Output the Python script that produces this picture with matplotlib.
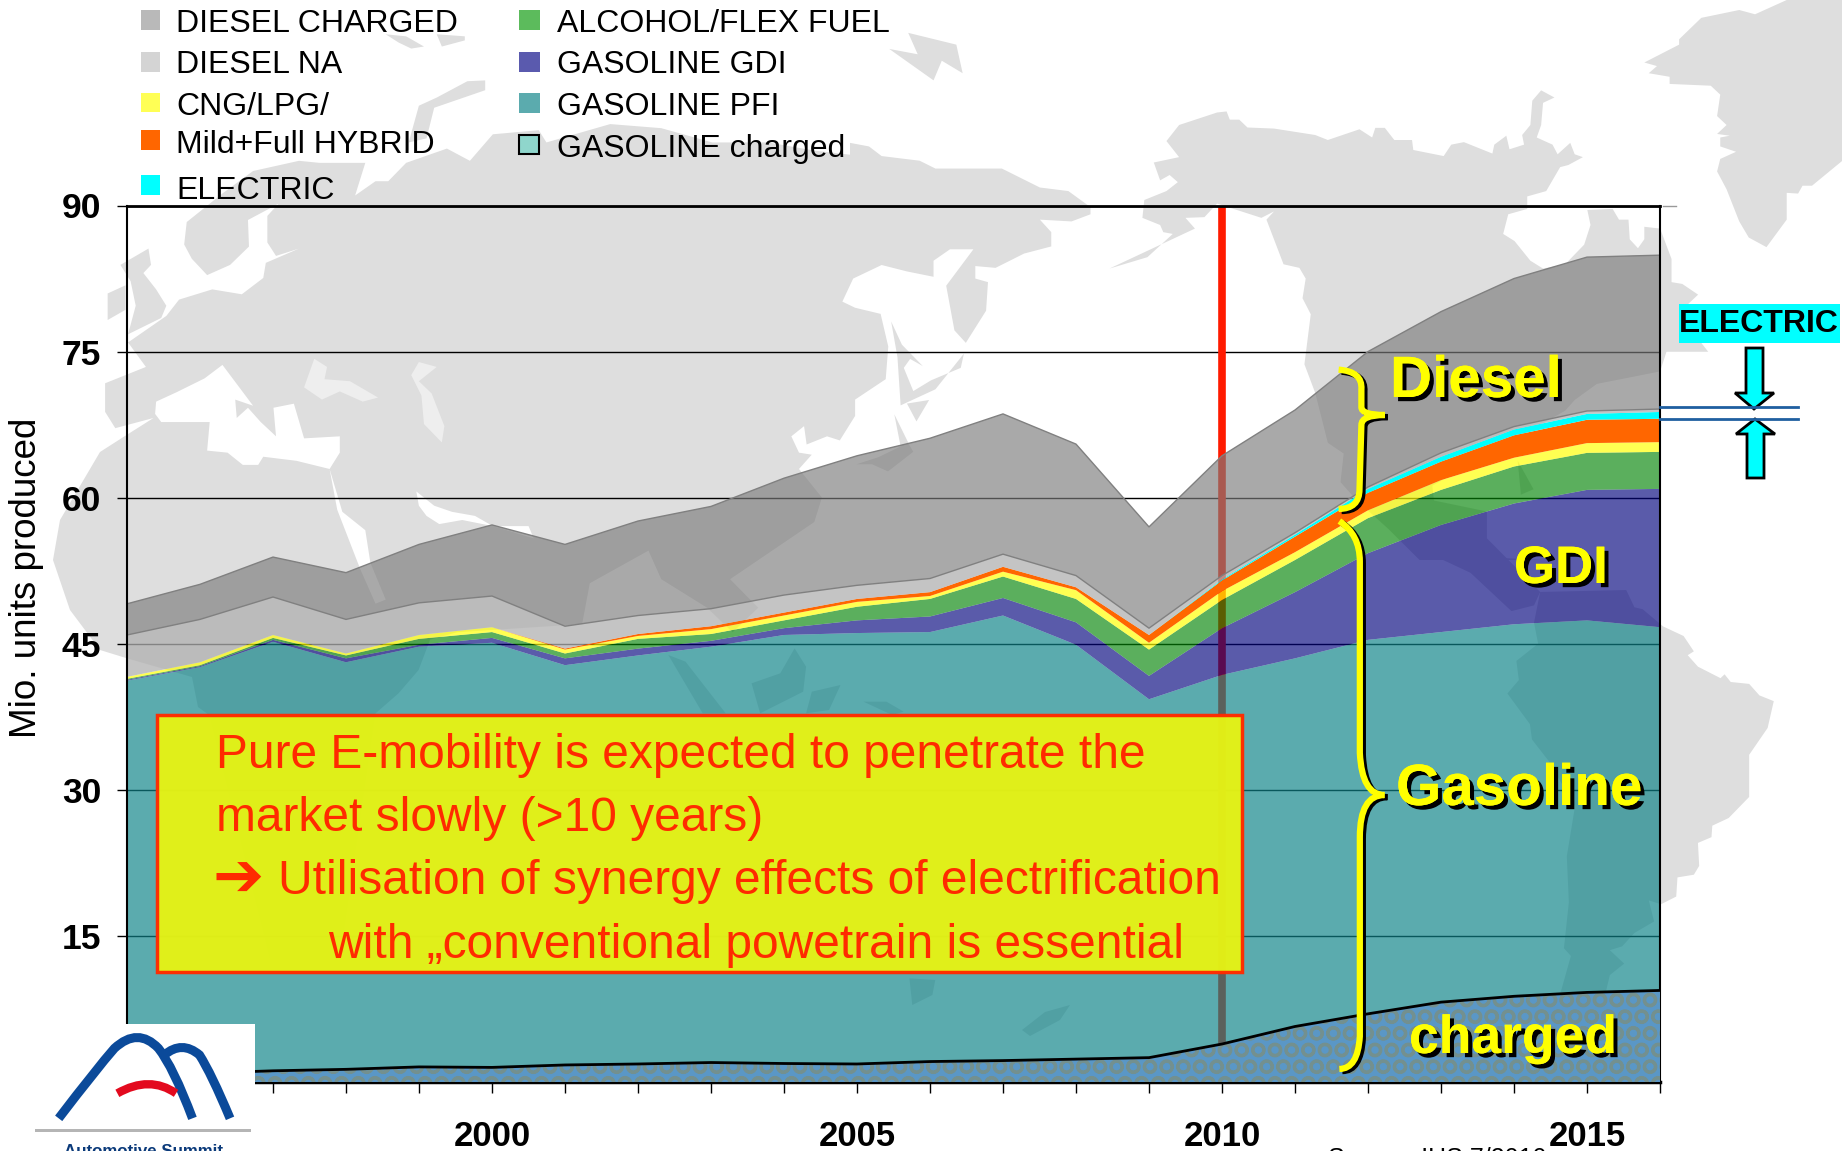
import matplotlib
matplotlib.use('Agg')
import numpy as np
import matplotlib.pyplot as plt
import matplotlib.patheffects as pe
from matplotlib.patches import Polygon, Rectangle, PathPatch
from matplotlib.path import Path

plt.rcParams['font.family'] = ['Liberation Sans', 'DejaVu Sans']
plt.rcParams['hatch.linewidth'] = 2.2

# Yearly top of every stacked layer, mio. units
years = list(range(1995, 2017))
gasoline_charged = [0.7, 0.9, 1.15, 1.3, 1.55, 1.5, 1.75, 1.85, 2.0, 1.9, 1.85, 2.1, 2.2, 2.35, 2.5, 3.9, 5.7, 7.0, 8.2, 8.8, 9.2, 9.4]
gasoline_pfi = [41.2, 42.6, 45.2, 43.1, 44.7, 45.1, 42.8, 43.8, 44.7, 45.9, 46.1, 46.2, 47.9, 44.9, 39.3, 41.8, 43.5, 45.4, 46.2, 47.0, 47.4, 46.7]
gasoline_gdi = [41.3, 42.7, 45.4, 43.5, 44.9, 45.6, 43.5, 44.5, 45.3, 46.6, 47.4, 47.8, 49.7, 47.2, 41.7, 46.6, 50.3, 54.3, 57.2, 59.4, 60.8, 60.9]
alcohol = [41.4, 42.8, 45.6, 43.8, 45.5, 46.2, 44.0, 45.5, 46.0, 47.4, 48.8, 49.6, 51.9, 49.6, 44.4, 49.5, 53.6, 57.9, 60.8, 63.2, 64.6, 64.7]
cng_lpg = [41.6, 43.1, 45.9, 44.0, 45.9, 46.7, 44.4, 45.8, 46.5, 47.9, 49.3, 49.9, 52.4, 50.5, 45.1, 50.4, 54.4, 58.7, 61.8, 64.1, 65.6, 65.7]
hybrid = [41.6, 43.1, 45.9, 44.0, 45.9, 46.7, 44.5, 46.0, 46.8, 48.2, 49.6, 50.3, 52.9, 50.8, 45.9, 51.5, 56.0, 60.5, 63.7, 66.4, 68.0, 68.1]
electric = [41.6, 43.1, 45.9, 44.0, 45.9, 46.7, 44.5, 46.0, 46.8, 48.2, 49.6, 50.3, 52.9, 50.8, 45.9, 51.6, 56.2, 60.9, 64.2, 67.0, 68.6, 68.8]
diesel_na = [45.9, 47.5, 49.8, 47.5, 49.2, 49.9, 46.8, 47.9, 48.6, 50.0, 51.0, 51.7, 54.2, 52.0, 46.6, 52.0, 56.4, 61.1, 64.6, 67.3, 68.9, 69.1]
diesel_charged = [49.1, 51.1, 53.9, 52.3, 55.2, 57.2, 55.2, 57.6, 59.1, 62.0, 64.3, 66.1, 68.6, 65.5, 57.0, 64.3, 69.0, 75.0, 79.1, 82.5, 84.7, 84.9]
y_ticks = [15, 30, 45, 60, 75, 90]
x_labels = [2000, 2005, 2010, 2015]

legend_col1 = ['DIESEL CHARGED', 'DIESEL NA', 'CNG/LPG/', 'Mild+Full HYBRID', 'ELECTRIC']
legend_col2 = ['ALCOHOL/FLEX FUEL', 'GASOLINE GDI', 'GASOLINE PFI', 'GASOLINE charged']
note_lines = ['Pure E-mobility is expected to penetrate the', 'market slowly (>10 years)',
              'Utilisation of synergy effects of electrification', 'with \u201econventional powetrain is essential']

W, H = 1842, 1151
fig = plt.figure(figsize=(W / 100, H / 100), dpi=100, facecolor='white')

# background map, in pixels of the figure
bg = fig.add_axes([0, 0, 1, 1], zorder=0)
bg.set_xlim(0, W)
bg.set_ylim(H, 0)
bg.axis('off')

# crop coordinates -> figure pixels
def a(pts):
    return [(100 + x / 1.96, 20 + y / 2.45) for x, y in pts]
def b(pts):
    return [(850 + x / 1.58, y / 2.8) for x, y in pts]
def c(pts):
    return [(1200 + x / 2.44, 500 + y / 2.61) for x, y in pts]
def d(pts):
    return [(100 + x / 1.742, 620 + y / 3) for x, y in pts]

MAP = '#dedede'
eurasia_africa = (
    a([(55, 790), (130, 725), (155, 685), (220, 660), (278, 672), (320, 632), (325, 595), (390, 560), (345, 578),
       (328, 545), (328, 480), (350, 450), (290, 490), (292, 555), (255, 600), (210, 625), (180, 585), (165, 550),
       (170, 495), (240, 425), (300, 370), (390, 345), (430, 350), (520, 350), (500, 430), (540, 395), (565, 395),
       (600, 350), (680, 315), (725, 345), (770, 280), (860, 270), (875, 300), (1000, 255), (1100, 265),
       (1200, 300), (1310, 300), (1400, 320), (1470, 330)])
    + b([(0, 400), (30, 410), (50, 437), (110, 450), (135, 472), (240, 472), (300, 525), (345, 535), (380, 580),
         (380, 600), (350, 620), (300, 615), (318, 650), (318, 690), (275, 710), (230, 750), (198, 745), (198, 780),
         (218, 790), (215, 870), (183, 960), (165, 925), (152, 800), (195, 698), (158, 698), (132, 730), (132, 775),
         (90, 760), (50, 742), (5, 780)])
    + a([(1455, 690), (1480, 705), (1530, 720), (1545, 800), (1540, 880), (1480, 930), (1480, 970), (1450, 1030),
         (1425, 1020), (1385, 1040), (1380, 995), (1355, 1020), (1370, 1060), (1395, 1065), (1370, 1100), (1415, 1170),
         (1400, 1230), (1235, 1370), (1290, 1440), (1240, 1500), (1190, 1440), (1100, 1370), (1075, 1300), (960, 1380),
         (945, 1480), (700, 1500), (647, 1518)])
    + d([(555, 150), (520, 220), (480, 280)])
    + [(340, 960), (270, 960), (209, 715), (198, 707), (192, 677), (126, 658), (100, 650), (70, 610), (53, 560),
       (60, 520), (100, 452), (125, 436)]
    + a([(105, 975), (30, 1000), (10, 960), (10, 890), (50, 870), (90, 850)])
)
north_america = b([(520, 350), (580, 315), (595, 312), (600, 335), (615, 335), (628, 357), (670, 360), (735, 378),
                   (755, 392), (805, 362), (825, 385), (830, 358), (845, 358), (860, 392), (888, 392), (890, 420),
                   (938, 437), (950, 405), (970, 398), (1015, 430), (1018, 405), (1037, 380), (1042, 418), (1065, 405),
                   (1062, 378), (1075, 350), (1078, 282), (1092, 253), (1113, 273), (1095, 288), (1092, 350),
                   (1085, 385), (1110, 405), (1118, 432), (1138, 400), (1145, 432), (1158, 440), (1135, 462),
                   (1122, 468), (1100, 535), (1070, 550), (1070, 585), (1040, 600), (1032, 655), (1050, 675),
                   (1075, 730), (1095, 752), (1130, 740), (1160, 685), (1170, 630), (1165, 588), (1205, 585),
                   (1215, 615), (1230, 615), (1232, 670), (1245, 695), (1255, 670), (1255, 635), (1280, 640),
                   (1298, 725), (1298, 790), (1315, 795), (1340, 825), (1325, 850), (1310, 880), (1356, 985),
                   (1290, 985), (1280, 1040), (1180, 1075), (1145, 1120), (1130, 1150), (1000, 1280), (920, 1360),
                   (925, 1440), (1000, 1560), (1100, 1568), (900, 1568), (850, 1480), (800, 1400), (775, 1350),
                   (780, 1270), (755, 1240), (735, 1100), (718, 1020), (728, 880), (715, 835), (720, 780), (710, 750),
                   (685, 740), (658, 615), (670, 592), (650, 610), (580, 570), (560, 608), (530, 610), (545, 640),
                   (410, 752), (470, 720), (510, 655), (495, 650), (490, 630), (462, 610), (465, 560), (500, 535),
                   (518, 510), (505, 490), (490, 505), (480, 455), (520, 440), (500, 395)])
central_america = c([(565, 0), (460, 40), (580, 150), (660, 190), (760, 290), (815, 275), (830, 240), (700, 100), (700, 30)])
south_america = c([(815, 320), (825, 375), (772, 420), (778, 470), (750, 505), (805, 585), (810, 625), (850, 680),
                   (915, 800), (895, 930), (900, 1050), (888, 1170), (905, 1190), (880, 1285), (990, 1285), (1000, 1240),
                   (1035, 1210), (1000, 1175), (1030, 1165), (1060, 1130), (1108, 1100), (1095, 1045), (1125, 1055),
                   (1162, 1035), (1165, 985), (1205, 978), (1218, 955), (1215, 895), (1248, 880), (1250, 850),
                   (1290, 830), (1340, 775), (1340, 665), (1385, 595), (1400, 525), (1365, 510), (1340, 480),
                   (1295, 475), (1280, 455), (1270, 465), (1215, 435), (1190, 405), (1205, 395), (1180, 355),
                   (1130, 330), (1080, 285), (1060, 280), (1040, 235), (830, 240)])
greenland = b([(1480, 0), (1430, 40), (1405, 28), (1345, 50), (1310, 110), (1310, 125), (1255, 175), (1275, 185),
               (1262, 205), (1295, 215), (1295, 235), (1360, 240), (1375, 265), (1370, 325), (1385, 350), (1370, 375),
               (1390, 380), (1375, 385), (1375, 410), (1400, 425), (1375, 445), (1370, 480), (1385, 530), (1405, 620),
               (1420, 665), (1448, 692), (1480, 615), (1480, 540), (1498, 542), (1505, 520), (1520, 520), (1568, 450),
               (1568, 0)])
islands = [
    b([(92, 92), (168, 125), (178, 205), (145, 170), (132, 225), (62, 137), (107, 152)]),
    a([(755, 148), (720, 150), (660, 190), (625, 210), (605, 300), (640, 290), (655, 215), (755, 172)]),
    a([(560, 35), (600, 40), (635, 65), (610, 70), (585, 55)]),
    a([(660, 35), (715, 40), (715, 50), (670, 65)]),
    a([(40, 600), (95, 560), (100, 600), (85, 620), (110, 660), (130, 700), (120, 730), (55, 770), (70, 700), (60, 640)]),
    a([(15, 670), (50, 650), (50, 710), (15, 735)]),
    a([(205, 885), (218, 900), (218, 965), (195, 965)]),
    b([(65, 900), (82, 965), (115, 1025), (95, 1005), (85, 1030), (100, 1095), (128, 1065), (175, 1030), (180, 990),
       (135, 1090), (80, 1135), (75, 1000)]),
    b([(90, 1130), (125, 1120), (105, 1180)]),
    b([(70, 1160), (95, 1250), (100, 1265), (60, 1320), (35, 1300), (10, 1300), (45, 1280), (80, 1250)]),
    b([(1055, 1290), (1080, 1370), (1060, 1385)]),
    d([(990, 105), (1020, 125), (1090, 280), (1050, 280)]),
    d([(1210, 85), (1230, 140), (1225, 215), (1150, 280), (1135, 190), (1185, 160)]),
    d([(1290, 195), (1240, 215), (1230, 280), (1270, 270)]),
    d([(1330, 245), (1370, 245), (1400, 275), (1380, 285)]),
    d([(1410, 1075), (1455, 1080), (1450, 1125), (1415, 1155)]),
    [(1022, 1030), (1045, 1012), (1070, 1005), (1060, 1020), (1030, 1036)],
]
seas = [
    a([(110, 935), (150, 912), (205, 878), (240, 845), (300, 945), (265, 930), (268, 975), (290, 950), (315, 985),
       (345, 1020), (340, 950), (380, 940), (400, 1025), (470, 1020), (470, 1060), (450, 1100), (385, 1080), (320, 1070),
       (310, 1090), (280, 1090), (250, 1060), (210, 1055), (215, 985), (120, 985), (108, 965)]),
    a([(450, 1100), (465, 1200), (510, 1345), (540, 1430), (560, 1420), (530, 1330), (520, 1250), (475, 1205)]),
    a([(620, 1155), (655, 1190), (690, 1205), (735, 1215), (770, 1240), (840, 1240), (850, 1270), (770, 1240),
       (710, 1225), (665, 1235), (640, 1215), (625, 1190)]),
]
inland = [
    a([(400, 900), (420, 830), (445, 850), (440, 880), (490, 885), (545, 925), (515, 935), (470, 910), (435, 930)]),
    a([(610, 870), (625, 838), (660, 850), (625, 885), (650, 915), (675, 995), (670, 1035), (635, 990), (630, 920)]),
]
for pts in [eurasia_africa, north_america, central_america, south_america, greenland] + islands:
    bg.add_patch(Polygon(pts, closed=True, fc=MAP, ec='none'))
for pts in seas:
    bg.add_patch(Polygon(pts, closed=True, fc='white', ec='none'))
for pts in inland:
    bg.add_patch(Polygon(pts, closed=True, fc='#eeeeee', ec='none'))

# the chart itself
ax = fig.add_axes([127 / W, (H - 1082) / H, (1660 - 127) / W, (1082 - 205.5) / H], zorder=1)
ax.patch.set_alpha(0)
ax.set_xlim(1995, 2016)
ax.set_ylim(0, 90)

ax.grid(False)
for v in y_ticks:
    ax.axhline(v, color='black', lw=1, zorder=1)
ax.plot([2010, 2010], [1.4, 90], color='#ff1a00', lw=5.5, solid_capstyle='butt', zorder=1.5)

y0 = np.zeros(len(years))
ax.fill_between(years, y0, gasoline_pfi, fc='#0e8388', alpha=0.68, lw=0, zorder=2)
ax.fill_between(years, gasoline_pfi, gasoline_gdi, fc='#02037d', alpha=0.65, lw=0, zorder=2)
ax.fill_between(years, gasoline_gdi, alcohol, fc='#038406', alpha=0.65, lw=0, zorder=2)
ax.fill_between(years, alcohol, cng_lpg, fc='#ffff00', alpha=0.68, lw=0, zorder=2)
ax.fill_between(years, cng_lpg, hybrid, fc='#ff6600', lw=0, zorder=2)
ax.fill_between(years, hybrid, electric, fc='#00ffff', lw=0, zorder=2)
ax.fill_between(years, electric, diesel_na, fc='#b0b0b0', alpha=0.75, lw=0, zorder=2)
ax.fill_between(years, diesel_na, diesel_charged, fc='#7c7c7c', alpha=0.65, lw=0, zorder=2)
ax.plot(years, diesel_na, color='#808080', lw=1, zorder=2.5)
ax.plot(years, diesel_charged, color='#808080', lw=1, zorder=2.5)

ax.fill_between(years, y0, gasoline_charged, facecolor='#5a97c6', edgecolor='#73908f', hatch='O', lw=0.01, zorder=3)
ax.plot(years, gasoline_charged, color='black', lw=2, zorder=3.5)

ax.set_yticks(y_ticks)
ax.set_yticklabels(y_ticks, fontsize=25.5, fontweight='bold')
ax.set_xticks(years[1:])
ax.set_xticklabels([y if y in x_labels else '' for y in years[1:]], fontsize=25, fontweight='bold')
ax.tick_params(axis='y', length=7, width=1, pad=11.5)
ax.tick_params(axis='x', length=8, width=1, pad=19)
ax.spines['left'].set_linewidth(1.5)
ax.spines['right'].set_linewidth(1.5)
ax.spines['top'].set_linewidth(2)
ax.spines['bottom'].set_linewidth(2.5)

# everything on top, again in pixels of the figure
top = fig.add_axes([0, 0, 1, 1], zorder=2)
top.set_xlim(0, W)
top.set_ylim(H, 0)
top.axis('off')
top.patch.set_alpha(0)

top.text(27, 578, 'Mio. units produced', rotation=90, fontsize=26.5, ha='center', va='center')

# legend
swatches1 = ['#b9b9b9', '#d4d4d4', '#ffff55', '#ff6600', '#00ffff']
swatch_y1 = [10, 52, 93, 130, 175]
swatch_h1 = [20, 20, 19, 20, 20]
text_y1 = [32, 73, 115, 153, 199]
for name, col, sy, sh, ty in zip(legend_col1, swatches1, swatch_y1, swatch_h1, text_y1):
    top.add_patch(Rectangle((141, sy), 19, sh, fc=col, ec='none'))
    top.text(176, ty, name, fontsize=23, va='baseline')
swatches2 = ['#5cbb5c', '#5a5aae', '#5babae']
for name, col, sy, ty in zip(legend_col2[:3], swatches2, [10, 52, 93], [32, 73, 115]):
    top.add_patch(Rectangle((519, sy), 21, 20, fc=col, ec='none'))
    top.text(557, ty, name, fontsize=23, va='baseline')
top.add_patch(Rectangle((519, 135), 20, 19, fc='#8fd6cc', ec='black', lw=1.5))
top.text(557, 157, legend_col2[3], fontsize=23, va='baseline')

# note box
top.add_patch(Rectangle((157, 715), 1085, 257, fc='#e5f215', ec='#ff2a00', lw=2.5, alpha=0.97))
note_x = [216, 216, 278, 328]
note_y = [768, 831, 894, 958]
for line, nx, ny in zip(note_lines, note_x, note_y):
    top.text(nx, ny, line, color='#ff2a00', fontsize=34.5, va='baseline')
top.text(212, 897, '\u2794', color='#ff2a00', fontsize=44, fontweight='bold', family='DejaVu Sans', va='baseline')

# layer names
shadow = [pe.withSimplePatchShadow(offset=(3, -3), shadow_rgbFace='black', alpha=1), pe.Normal()]
for label, lx_, ly_, size in [('Diesel', 1390, 397, 42), ('GDI', 1514, 583, 38), ('Gasoline', 1396, 805, 42), ('charged', 1409, 1053, 38.5)]:
    top.text(lx_, ly_, label, color='#ffff00', fontsize=size, fontweight='bold', va='baseline', path_effects=shadow)

# curly brackets
def bracket(verts, codes):
    for off, col in [(3, 'black'), (0, '#ffff00')]:
        v = [(x + off, y + off * 0.7) for x, y in verts]
        top.add_patch(PathPatch(Path(v, codes), fc='none', ec=col, lw=4.5, capstyle='butt'))

C3 = Path.CURVE3
diesel_pts = b([(772, 1035), (810, 1040), (808, 1090), (808, 1140), (808, 1162), (845, 1162), (808, 1162), (808, 1190),
                (805, 1370), (805, 1425), (772, 1425)])
bracket(diesel_pts, [Path.MOVETO, C3, C3, Path.LINETO, C3, C3, C3, C3, Path.LINETO, C3, C3])
gasoline_pts = c([(340, 55), (390, 90), (390, 160), (390, 660), (395, 770), (450, 770), (390, 770), (390, 880),
                  (390, 1400), (385, 1485), (340, 1485)])
bracket(gasoline_pts, [Path.MOVETO, C3, C3, Path.LINETO, C3, C3, C3, C3, Path.LINETO, C3, C3])

# ELECTRIC marker right of the plot
top.add_patch(Rectangle((1679, 304), 161, 39, fc='#00ffff', ec='none'))
top.text(1759, 324, 'ELECTRIC', fontsize=23, fontweight='bold', ha='center', va='center')
for yy in [407, 418.6]:
    top.plot([1660, 1798], [yy, yy], color='#1f5fa0', lw=2)
top.add_patch(Polygon([(1746, 348), (1763, 348), (1763, 393), (1774, 393), (1754, 409), (1735, 393), (1746, 393)],
                      closed=True, fc='#00ffff', ec='black', lw=2))
top.add_patch(Polygon([(1747, 478), (1764, 478), (1764, 434), (1775, 434), (1755, 419), (1736, 434), (1747, 434)],
                      closed=True, fc='#00ffff', ec='black', lw=2))
top.plot([1663, 1676], [206, 206], color='#999999', lw=1)

# source, runs off the bottom edge
top.text(1328, 1166, 'Source: IHS 7/2010', fontsize=18, va='baseline', clip_on=False)

# logo
top.add_patch(Rectangle((0, 1024), 255, 127, fc='white', ec='none', zorder=4))
def lx(v):
    return v / 1.704
def ly(v):
    return 980 + v / 3
def arc(pts, col, width):
    xy = [(lx(x), ly(y)) for x, y in pts]
    top.add_patch(PathPatch(Path(xy, [Path.MOVETO] + [C3] * (len(xy) - 1)), fc='none', ec=col, lw=width, zorder=5, capstyle='butt'))
arc([(100, 415), (165, 265), (195, 205), (235, 140), (270, 205), (295, 260), (328, 415)], '#0b4a9a', 6.5)
arc([(280, 225), (310, 180), (340, 225), (360, 280), (392, 415)], '#0b4a9a', 6.5)
arc([(200, 340), (255, 285), (300, 340)], '#e30a1e', 6)
top.add_patch(Rectangle((lx(60), ly(448)), lx(428) - lx(60), 3, fc='#b5b5b5', ec='none', zorder=5))
top.text(lx(245), 1151, 'Automotive Summit', color='#0b3a7a', fontsize=12.2, fontweight='bold', ha='center', va='center', zorder=5)

fig.savefig('out.png', dpi=100)
